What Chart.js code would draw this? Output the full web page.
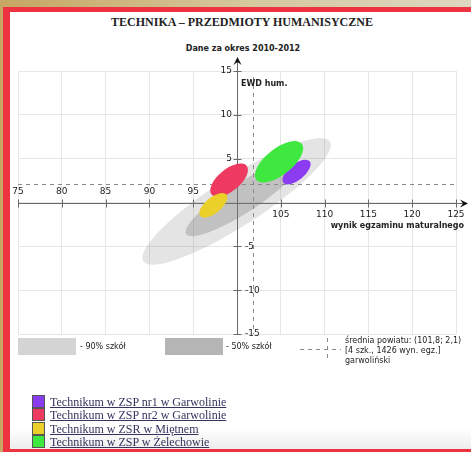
<!DOCTYPE html>
<html lang="pl">
<head>
<meta charset="utf-8">
<title>Technika – przedmioty humanistyczne</title>
<script src="https://cdn.jsdelivr.net/npm/chart.js@4/dist/chart.umd.min.js"></script>
<style>
    html, body { margin: 0; padding: 0; }
    body {
        width: 471px; height: 452px; overflow: hidden; position: relative;
        background: linear-gradient(to right, #c6a662, #d6c9a0 55%, #ddd7c2);
        font-family: "DejaVu Sans", sans-serif;
    }
    #ramka {
        position: absolute; left: 3px; top: 7px; right: 0; bottom: 0;
        background: #fff;
        border-left: 7px solid #ee3340; border-top: 5px solid #ee3340; border-bottom: 3px solid #ee3340;
    }
    #cien {
        position: absolute; left: 10px; right: 0; top: 428px; height: 21px;
        background: linear-gradient(rgba(0,0,0,0), rgba(0,0,0,0.07));
    }
    #wykres { position: absolute; left: 0; top: 0; }
    .tekst { position: absolute; color: #222; white-space: nowrap; }
    #tytul { left: 10px; width: 464px; top: 15px; text-align: center; font: bold 12px "Liberation Serif", serif; }
    #podtytul { left: 10px; width: 466px; top: 44px; text-align: center; font: bold 8px "DejaVu Sans", sans-serif; }
    .skala { position: absolute; top: 338px; width: 58px; height: 17px; }
    .opis { position: absolute; font: 8px "DejaVu Sans", sans-serif; color: #222; white-space: nowrap; }
    #szkoly { position: absolute; left: 32px; top: 395px; }
    #szkoly div { height: 13.4px; line-height: 13px; font: 12px "Liberation Serif", serif; color: #34345e; text-decoration: underline; white-space: nowrap; }
    #szkoly span { display: inline-block; width: 11px; height: 11px; border: 1px solid #555; vertical-align: -2px; margin-right: 5px; }
</style>
</head>
<body>
<div id="ramka"></div>
<div id="cien"></div>
<div id="tytul" class="tekst">TECHNIKA – PRZEDMIOTY HUMANISYCZNE</div>
<div id="podtytul" class="tekst">Dane za okres 2010-2012</div>
<canvas id="wykres" width="471" height="452"></canvas>

<div class="skala" style="left:18px; background:#d4d4d4;"></div>
<div class="opis" style="left:80px; top:342px;">- 90% szkół</div>
<div class="skala" style="left:165px; background:#b5b5b5;"></div>
<div class="opis" style="left:226px; top:342px;">- 50% szkół</div>
<div class="opis" style="left:345px; top:336px; line-height:10px;">średnia powiatu: (101,8; 2,1)<br>[4 szk., 1426 wyn. egz.]<br>garwoliński</div>
<div id="szkoly"></div>

<script>
// osie
const xTicks = [75, 80, 85, 90, 95, 105, 110, 115, 120, 125];
const yTicks = [15, 10, 5, -5, -10, -15];

// szkoly: konce dluzszej osi elipsy (wynik, EWD) i polowa szerokosci (EWD)
const schools = ["Technikum w ZSP nr1 w Garwolinie", "Technikum w ZSP nr2  w Garwolinie", "Technikum w ZSR w Miętnem", "Technikum w ZSP w Żelechowie"];
const schoolStart = [[105.3, 2.25], [97.1, 0.9], [95.8, -1.55], [102.2, 2.6]];
const schoolEnd = [[108.3, 4.7], [101.1, 4.2], [98.8, 0.9], [107.4, 6.7]];
const schoolHalfWidth = [0.9, 1.25, 0.9, 1.5];
const schoolColors = ["#8b3cf0", "#ee3a60", "#ecd02a", "#3ee83e"];

// obszary 90% i 50% szkol
const range90 = [[89.3, -6.7], [110.6, 6.95]];
const range90HalfWidth = 2.8;
const range50 = [[94.2, -3.6], [107, 4.6]];
const range50HalfWidth = 1.7;

// srednia powiatu
const mean = [101.8, 2.1];

const toPoints = (a, b) => [{ x: a[0], y: a[1] }, { x: b[0], y: b[1] }];

const datasets = [
    { label: "90% szkół", data: toPoints(range90[0], range90[1]), halfWidth: range90HalfWidth, backgroundColor: "rgba(120,120,120,0.2)" },
    { label: "50% szkół", data: toPoints(range50[0], range50[1]), halfWidth: range50HalfWidth, backgroundColor: "rgba(120,120,120,0.33)" }
];
schools.forEach((s, i) => {
    datasets.push({ label: s, data: toPoints(schoolStart[i], schoolEnd[i]), halfWidth: schoolHalfWidth[i], backgroundColor: schoolColors[i] });
});

// legenda szkol
const lista = document.getElementById("szkoly");
schools.forEach((s, i) => {
    const row = document.createElement("div");
    row.innerHTML = `<span style="background:${schoolColors[i]}"></span>${s}`;
    lista.appendChild(row);
});

function dashedLines(chart) {
    const { ctx, chartArea, scales: { x, y } } = chart;
    const mx = x.getPixelForValue(mean[0]), my = y.getPixelForValue(mean[1]);
    ctx.save();
    ctx.strokeStyle = "#8a8a8a";
    ctx.lineWidth = 1;
    ctx.setLineDash([4, 4]);
    ctx.beginPath();
    ctx.moveTo(Math.round(mx) + 0.5, chartArea.top + 6);
    ctx.lineTo(Math.round(mx) + 0.5, chartArea.bottom);
    ctx.moveTo(chartArea.left, Math.round(my) + 0.5);
    ctx.lineTo(chartArea.right, Math.round(my) + 0.5);
    ctx.stroke();
    // znak sredniej w legendzie
    ctx.beginPath();
    ctx.moveTo(300, 349.5); ctx.lineTo(341, 349.5);
    ctx.moveTo(327.5, 338); ctx.lineTo(327.5, 358);
    ctx.stroke();
    ctx.restore();
}

const ellipsePlugin = {
    id: "elipsy",
    beforeDatasetsDraw(chart) {
        const { ctx, chartArea, scales: { x, y } } = chart;
        const x0 = Math.round(x.getPixelForValue(100)) + 0.5;
        const y0 = Math.round(y.getPixelForValue(0)) + 0.5;

        // osie ze strzalkami
        ctx.save();
        ctx.strokeStyle = "#6a6a6a";
        ctx.fillStyle = "#111";
        ctx.lineWidth = 1;
        ctx.beginPath();
        ctx.moveTo(x0, 60); ctx.lineTo(x0, chartArea.bottom);
        ctx.moveTo(chartArea.left, y0); ctx.lineTo(chartArea.right + 9, y0);
        xTicks.forEach(v => {
            const px = Math.round(x.getPixelForValue(v)) + 0.5;
            ctx.moveTo(px, y0 - 4); ctx.lineTo(px, y0 + 4);
        });
        yTicks.forEach(v => {
            const py = Math.round(y.getPixelForValue(v)) + 0.5;
            ctx.moveTo(x0 - 4, py); ctx.lineTo(x0 + 4, py);
        });
        ctx.stroke();
        ctx.beginPath();
        ctx.moveTo(x0, 57); ctx.lineTo(x0 + 4, 65); ctx.lineTo(x0, 62); ctx.lineTo(x0 - 4, 65);
        ctx.closePath(); ctx.fill();
        const xe = chartArea.right + 12;
        ctx.beginPath();
        ctx.moveTo(xe, y0); ctx.lineTo(xe - 8, y0 - 4); ctx.lineTo(xe - 5, y0); ctx.lineTo(xe - 8, y0 + 4);
        ctx.closePath(); ctx.fill();
        ctx.restore();

        // elipsy
        chart.data.datasets.forEach((ds, i) => {
            const [p1, p2] = chart.getDatasetMeta(i).data;
            const cx = (p1.x + p2.x) / 2, cy = (p1.y + p2.y) / 2;
            const rx = Math.hypot(p2.x - p1.x, p2.y - p1.y) / 2;
            const ry = Math.abs(y.getPixelForValue(0) - y.getPixelForValue(ds.halfWidth));
            const ang = Math.atan2(p2.y - p1.y, p2.x - p1.x);
            ctx.save();
            ctx.beginPath();
            ctx.ellipse(cx, cy, rx, ry, ang, 0, Math.PI * 2);
            ctx.fillStyle = ds.backgroundColor;
            ctx.fill();
            ctx.restore();
            if (i === 1) dashedLines(chart);
        });
    },
    afterDraw(chart) {
        const { ctx, chartArea, scales: { x, y } } = chart;
        const x0 = x.getPixelForValue(100), y0 = y.getPixelForValue(0);
        ctx.save();
        ctx.fillStyle = "#222";
        ctx.font = "9px 'DejaVu Sans'";
        ctx.textBaseline = "middle";
        ctx.textAlign = "center";
        xTicks.forEach(v => {
            ctx.fillText(String(v), x.getPixelForValue(v), v < 100 ? y0 - 11 : y0 + 12);
        });
        yTicks.forEach(v => {
            ctx.textAlign = v > 0 ? "right" : "left";
            ctx.fillText(String(v), v > 0 ? x0 - 5 : x0 + 8, y.getPixelForValue(v));
        });
        ctx.font = "bold 8px 'DejaVu Sans'";
        ctx.textAlign = "left";
        ctx.fillText("EWD hum.", x0 + 4, 84);
        ctx.textAlign = "right";
        ctx.fillText("wynik egzaminu maturalnego", chartArea.right + 8, y0 + 23);
        ctx.restore();
    }
};

new Chart(document.getElementById("wykres"), {
    type: "scatter",
    data: { datasets: datasets },
    options: {
        responsive: false,
        animation: false,
        events: [],
        layout: { padding: { left: 18, right: 15, top: 71, bottom: 118 } },
        elements: { point: { radius: 0 } },
        plugins: { legend: { display: false }, tooltip: { enabled: false } },
        scales: {
            x: {
                type: "linear", min: 75, max: 125,
                ticks: { stepSize: 5, display: false },
                grid: { color: "#e6e6e6", drawTicks: false },
                border: { display: false }
            },
            y: {
                type: "linear", min: -15, max: 15,
                ticks: { stepSize: 5, display: false },
                grid: { color: "#e6e6e6", drawTicks: false },
                border: { display: false }
            }
        }
    },
    plugins: [ellipsePlugin]
});
</script>
</body>
</html>
